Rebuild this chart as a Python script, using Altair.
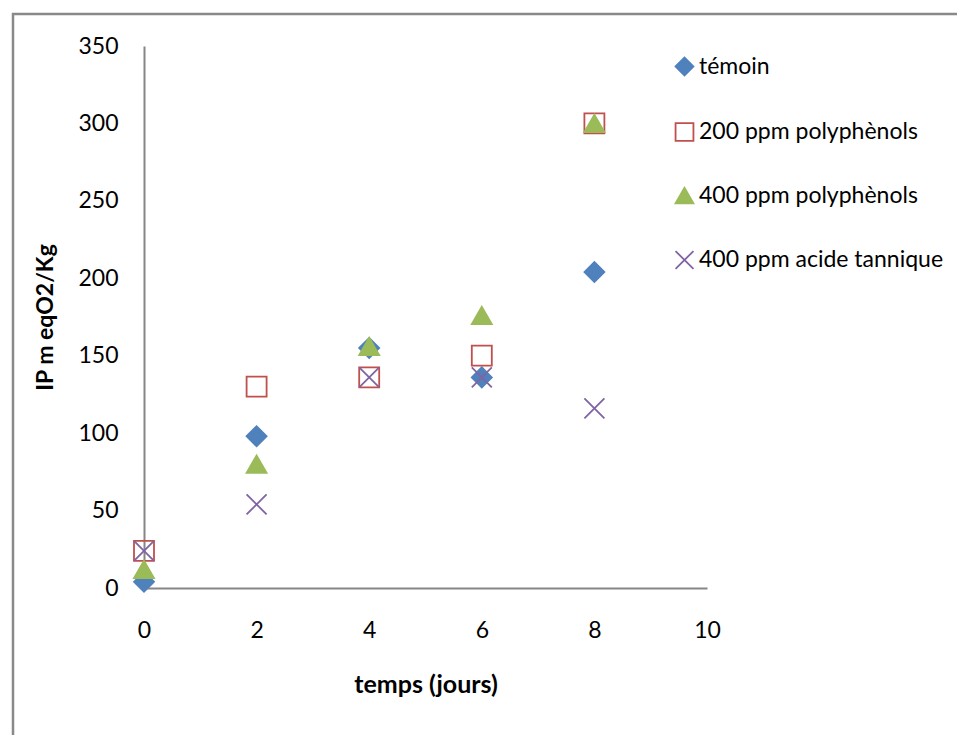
import altair as alt
import pandas as pd

jours = [0, 2, 4, 6, 8]
temoin = [4, 98, 155, 136, 204]
ppm200_poly = [24, 130, 136, 150, 300]
ppm400_poly = [12, 80, 156, 176, 300]
ppm400_tannique = [24, 54, 136, 136, 116]

series_names = ["témoin", "200 ppm polyphènols", "400 ppm polyphènols", "400 ppm acide tannique"]
series_values = [temoin, ppm200_poly, ppm400_poly, ppm400_tannique]
stroke_colors = ["#4F81BD", "#C0504D", "#9BBB59", "#8064A2"]
fill_colors = ["#4F81BD", "transparent", "#9BBB59", "transparent"]
shapes = ["diamond", "square", "triangle-up", "M-1,-1L1,1M-1,1L1,-1"]

rows = []
for name, vals in zip(series_names, series_values):
    for j, v in zip(jours, vals):
        rows.append({"serie": name, "jours": j, "IP": v})
df = pd.DataFrame(rows)

FONT = "Lato"
FS = 23

legend = alt.Legend(
    title=None, orient="none", legendX=529, legendY=9, padding=0,
    labelFontSize=FS, labelFont=FONT, labelColor="#000000", labelLimit=400,
    symbolSize=320, symbolStrokeWidth=1.8, rowPadding=38.5, labelOffset=3,
)

points = alt.Chart(df).mark_point(size=400, strokeWidth=1.8, opacity=1).encode(
    x=alt.X("jours:Q", scale=alt.Scale(domain=[0, 10], nice=False),
            axis=alt.Axis(values=[0, 2, 4, 6, 8, 10], title="temps (jours)", grid=False, ticks=False,
                          labelFlush=False, labelOverlap=False,
                          domainColor="#868686", domainWidth=2, labelFont=FONT, labelFontSize=FS,
                          labelColor="#000000", labelPadding=31, titleFont=FONT, titleFontSize=25,
                          titleFontWeight="bold", titleColor="#000000", titlePadding=30)),
    y=alt.Y("IP:Q", scale=alt.Scale(domain=[0, 350], nice=False),
            axis=alt.Axis(values=list(range(0, 351, 50)), title="IP m eqO2/Kg", grid=False, ticks=False,
                          labelFlush=False, labelOverlap=False,
                          domainColor="#868686", domainWidth=2, labelFont=FONT, labelFontSize=FS,
                          labelColor="#000000", labelPadding=26, titleFont=FONT, titleFontSize=FS,
                          titleFontWeight="bold", titleColor="#000000", titleX=-99, titleY=271,
                          titleAlign="center", titleBaseline="middle")),
    shape=alt.Shape("serie:N", sort=series_names, scale=alt.Scale(domain=series_names, range=shapes), legend=legend),
    stroke=alt.Stroke("serie:N", sort=series_names, scale=alt.Scale(domain=series_names, range=stroke_colors), legend=legend),
    fill=alt.Fill("serie:N", sort=series_names, scale=alt.Scale(domain=series_names, range=fill_colors), legend=legend),
)

frame = alt.Chart(pd.DataFrame({"a": [0]})).mark_rect(fill="transparent", stroke="#898989", strokeWidth=2.5).encode(
    x=alt.value(13 - 144), x2=alt.value(957 - 144 + 20),
    y=alt.value(14 - 46), y2=alt.value(735 - 46 + 20),
)

chart = alt.layer(frame, points).properties(
    width=563, height=542,
    padding={"left": 144, "top": 46, "right": 250, "bottom": 147},
    autosize=alt.AutoSizeParams(type="none"),
    view=alt.ViewBackground(stroke="transparent", strokeOpacity=0, strokeWidth=0),
).configure_view(stroke="transparent", strokeOpacity=0, strokeWidth=0).configure(background="white")

chart.save("out.html", embed_options={"renderer": "svg", "actions": False})
